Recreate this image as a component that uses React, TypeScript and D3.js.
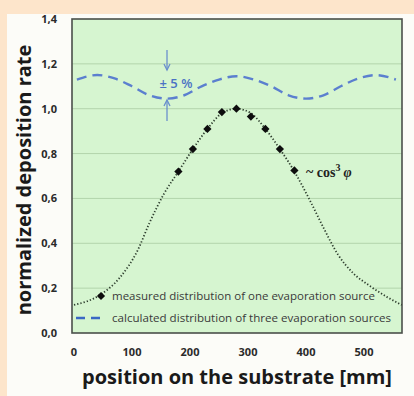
import React, { useEffect, useRef } from 'react';
import * as d3 from 'd3';

// measured distribution of one evaporation source (diamonds)
const measuredX = [180, 205, 230, 255, 280, 305, 330, 355, 380];
const measuredY = [0.72, 0.82, 0.91, 0.985, 1.0, 0.965, 0.91, 0.82, 0.725];

// ~cos^3 fit
const fitX = [0, 45, 80, 110, 130, 155, 180, 205, 230, 255, 280, 305, 330, 355, 380, 405, 430, 455, 480, 510, 540, 565];
const fitY = [0.125, 0.17, 0.25, 0.37, 0.49, 0.62, 0.72, 0.82, 0.91, 0.98, 1.0, 0.98, 0.91, 0.82, 0.72, 0.6, 0.47, 0.35, 0.27, 0.21, 0.16, 0.125];

// calculated distribution of three evaporation sources (dashed)
const calcX = [5, 40, 70, 100, 130, 160, 190, 220, 250, 280, 310, 340, 370, 400, 430, 460, 490, 520, 555];
const calcY = [1.13, 1.15, 1.135, 1.1, 1.06, 1.045, 1.06, 1.1, 1.13, 1.145, 1.13, 1.1, 1.06, 1.045, 1.06, 1.1, 1.135, 1.15, 1.13];

const xTicks = [0, 100, 200, 300, 400, 500];
const yTicks = [0, 0.2, 0.4, 0.6, 0.8, 1.0, 1.2, 1.4];

const legendLabels = [
  'measured distribution of one evaporation source',
  'calculated distribution of three evaporation sources',
];

const W = 414;
const H = 396;

export default function App() {
  const svgRef = useRef<SVGSVGElement>(null);

  useEffect(() => {
    if (!svgRef.current) return;
    const svg = d3.select(svgRef.current);
    svg.selectAll('*').remove();

    const plot = { left: 72, top: 19, right: 402, bottom: 333 };
    const x = d3.scaleLinear().domain([0, 567]).range([74, 74 + 567 * 0.58]);
    const y = d3.scaleLinear().domain([0, 1.4]).range([plot.bottom, plot.top]);

    // backgrounds
    svg.append('rect').attr('width', W).attr('height', H).attr('fill', '#fde5cb');
    svg.append('rect').attr('x', 7).attr('y', 14).attr('width', W - 7).attr('height', H - 14).attr('fill', '#fcfcf8');
    svg
      .append('rect')
      .attr('x', plot.left)
      .attr('y', plot.top)
      .attr('width', plot.right - plot.left)
      .attr('height', plot.bottom - plot.top)
      .attr('fill', '#d6f5d0');

    // gridlines
    svg
      .selectAll('.grid')
      .data(yTicks.slice(1, -1))
      .enter()
      .append('line')
      .attr('x1', plot.left)
      .attr('x2', plot.right)
      .attr('y1', d => y(d))
      .attr('y2', d => y(d))
      .attr('stroke', '#b3d4ab')
      .attr('stroke-width', 1);

    // legend background covers gridline
    svg
      .append('rect')
      .attr('x', 110)
      .attr('y', 285)
      .attr('width', 262)
      .attr('height', 46)
      .attr('fill', '#d6f5d0');

    // frame
    svg
      .append('rect')
      .attr('x', plot.left)
      .attr('y', plot.top)
      .attr('width', plot.right - plot.left)
      .attr('height', plot.bottom - plot.top)
      .attr('fill', 'none')
      .attr('stroke', '#4a4f4a')
      .attr('stroke-width', 1.6);

    // y tick labels
    svg
      .selectAll('.ytick')
      .data(yTicks)
      .enter()
      .append('text')
      .attr('x', 57)
      .attr('y', d => y(d) + 4)
      .attr('text-anchor', 'end')
      .attr('font-family', '"Open Sans", sans-serif')
      .attr('font-weight', 700)
      .attr('font-size', '11px')
      .attr('fill', '#2a2a2a')
      .text(d => d3.format('.1f')(d).replace('.', ','));

    // x tick labels
    svg
      .selectAll('.xtick')
      .data(xTicks)
      .enter()
      .append('text')
      .attr('x', d => x(d))
      .attr('y', 356)
      .attr('text-anchor', 'middle')
      .attr('font-family', '"Open Sans", sans-serif')
      .attr('font-weight', 700)
      .attr('font-size', '11px')
      .attr('fill', '#2a2a2a')
      .text(d => String(d));

    // axis titles
    svg
      .append('text')
      .attr('transform', 'translate(31, 180) rotate(-90)')
      .attr('text-anchor', 'middle')
      .attr('font-family', '"Open Sans", sans-serif')
      .attr('font-weight', 700)
      .attr('font-size', '20px')
      .attr('fill', '#1a1a1a')
      .text('normalized deposition rate');

    svg
      .append('text')
      .attr('x', 237)
      .attr('y', 384)
      .attr('text-anchor', 'middle')
      .attr('font-family', '"Open Sans", sans-serif')
      .attr('font-weight', 700)
      .attr('font-size', '20px')
      .attr('fill', '#1a1a1a')
      .text('position on the substrate [mm]');

    // dotted cos^3 curve
    const fitLine = d3
      .line<number>()
      .x((_, i) => x(fitX[i]))
      .y(d => y(d))
      .curve(d3.curveMonotoneX);
    svg
      .append('path')
      .attr('d', fitLine(fitY)!)
      .attr('fill', 'none')
      .attr('stroke', '#2f3f2f')
      .attr('stroke-width', 1.8)
      .attr('stroke-dasharray', '1.3 2');

    // dashed calculated curve
    const calcLine = d3
      .line<number>()
      .x((_, i) => x(calcX[i]))
      .y(d => y(d))
      .curve(d3.curveMonotoneX);
    svg
      .append('path')
      .attr('d', calcLine(calcY)!)
      .attr('fill', 'none')
      .attr('stroke', '#5b7fcf')
      .attr('stroke-width', 2.4)
      .attr('stroke-dasharray', '10 6');

    // diamonds (square turned 45°)
    const diamond = d3.symbol().type(d3.symbolSquare).size(34);
    svg
      .selectAll('.pt')
      .data(measuredY)
      .enter()
      .append('path')
      .attr('d', diamond()!)
      .attr('transform', (d, i) => `translate(${x(measuredX[i])}, ${y(d)}) rotate(45)`)
      .attr('fill', '#0d0d0d');

    // ±5 % annotation
    const ax = 167;
    const arrowHead = (tipY: number, dir: number) =>
      `M${ax - 3},${tipY - dir * 6} L${ax},${tipY} L${ax + 3},${tipY - dir * 6}`;
    svg.append('line').attr('x1', ax).attr('x2', ax).attr('y1', 50).attr('y2', 70).attr('stroke', '#6a8fcc').attr('stroke-width', 1.3);
    svg.append('path').attr('d', arrowHead(70, 1)).attr('fill', 'none').attr('stroke', '#6a8fcc').attr('stroke-width', 1.3);
    svg.append('line').attr('x1', ax).attr('x2', ax).attr('y1', 100).attr('y2', 121).attr('stroke', '#6a8fcc').attr('stroke-width', 1.3);
    svg.append('path').attr('d', arrowHead(100, -1)).attr('fill', 'none').attr('stroke', '#6a8fcc').attr('stroke-width', 1.3);
    svg
      .append('text')
      .attr('x', 176)
      .attr('y', 88)
      .attr('text-anchor', 'middle')
      .attr('font-family', '"Open Sans", sans-serif')
      .attr('font-weight', 600)
      .attr('font-size', '13px')
      .attr('fill', '#4a72c4')
      .text('± 5 %');

    // ~cos^3 φ label
    const cosLabel = svg
      .append('text')
      .attr('x', 306)
      .attr('y', 177)
      .attr('font-family', '"Liberation Serif", serif')
      .attr('font-weight', 700)
      .attr('font-size', '14px')
      .attr('fill', '#222');
    cosLabel.append('tspan').text('~ cos');
    cosLabel.append('tspan').attr('dy', -6).attr('font-size', '10px').text('3');
    cosLabel.append('tspan').attr('dy', 6).attr('dx', 3).attr('font-style', 'italic').text('φ');

    // legend
    svg
      .append('path')
      .attr('d', diamond()!)
      .attr('transform', 'translate(101, 296) rotate(45)')
      .attr('fill', '#0d0d0d');
    svg
      .append('line')
      .attr('x1', 76)
      .attr('x2', 101)
      .attr('y1', 318)
      .attr('y2', 318)
      .attr('stroke', '#3a68c4')
      .attr('stroke-width', 2.4)
      .attr('stroke-dasharray', '9 6');
    svg
      .selectAll('.leg')
      .data(legendLabels)
      .enter()
      .append('text')
      .attr('x', 112)
      .attr('y', (d, i) => 300 + i * 22)
      .attr('font-family', '"Open Sans", sans-serif')
      .attr('font-size', '11px')
      .attr('fill', '#3a3a3a')
      .attr('textLength', (d, i) => (i === 0 ? 263 : 279))
      .attr('lengthAdjust', 'spacingAndGlyphs')
      .text(d => d);
  }, []);

  return (
    <svg
      ref={svgRef}
      width={W}
      height={H}
      style={{ position: 'absolute', left: 0, top: 0, display: 'block' }}
    />
  );
}
